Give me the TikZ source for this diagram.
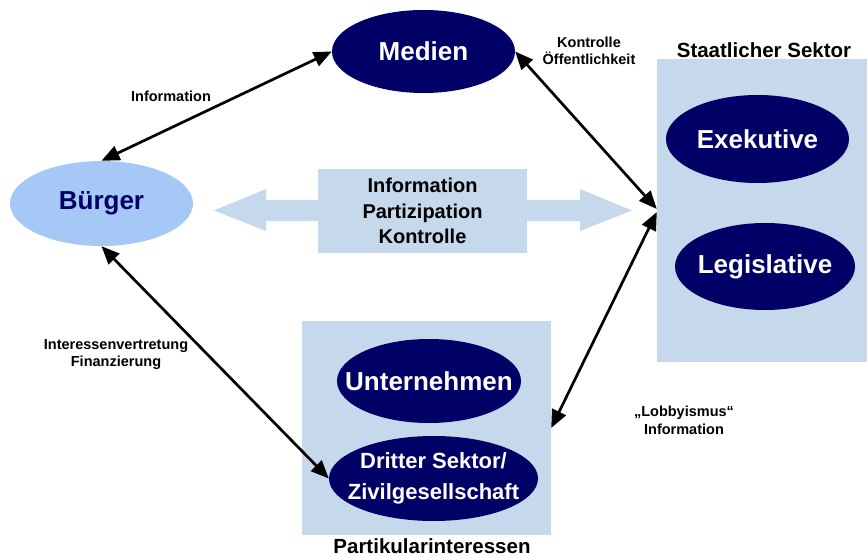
\documentclass[tikz,border=0pt]{standalone}
\usepackage{fontspec}
\setmainfont{Liberation Sans}
\usetikzlibrary{shapes.geometric,arrows.meta}
\definecolor{navy}{HTML}{000066}
\definecolor{paleblue}{HTML}{C5D8EC}
\definecolor{buergerblue}{HTML}{A6C8F7}
\begin{document}
\begin{tikzpicture}[x=1pt,y=-1pt,
  darkell/.style={ellipse, fill=navy, inner sep=0pt},
  ellfont/.style={text=white, inner sep=0pt, align=center, font=\bfseries\fontsize{26}{28}\selectfont},
  panel/.style={fill=paleblue, inner sep=0pt},
  conn/.style={black, line width=2.7pt, {Triangle[length=18pt,width=15pt]}-{Triangle[length=18pt,width=15pt]}},
  lbl/.style={font=\bfseries\fontsize{14.5}{17.5}\selectfont, align=center, inner sep=0pt},
  title/.style={font=\bfseries\fontsize{20.5}{24}\selectfont, inner sep=0pt, anchor=base},
  bigarrow/.style={fill=paleblue}
]
\useasboundingbox (0,0) rectangle (867,556);

% panels
\node[panel, minimum width=212pt, minimum height=303pt] (staat) at (763,210.5) {};
\node[panel, minimum width=249pt, minimum height=214pt] (part) at (426.5,428) {};
\node[panel, minimum width=209pt, minimum height=84pt, align=center,
      font=\bfseries\fontsize{20}{25.5}\selectfont] (mitte) at (422.5,211)
      {Information\\Partizipation\\Kontrolle};

% big light arrows
\fill[bigarrow] (mitte.west |- 0,200) -- (266,200) -- (266,189) -- (214,210.5)
   -- (266,231) -- (266,221) -- (mitte.west |- 0,221) -- cycle;
\fill[bigarrow] (mitte.east |- 0,200) -- (580,200) -- (580,189) -- (632,210.5)
   -- (580,231) -- (580,221) -- (mitte.east |- 0,221) -- cycle;

% titles
\node[title] (staattitle) at (764,58) {Staatlicher Sektor};
\node[title] (parttitle) at (432,553.5) {Partikularinteressen};

% ellipses
\node[darkell, minimum width=183pt, minimum height=83pt,
      label={[ellfont]center:Medien}] (medien) at (423.5,51.5) {};
\node[ellipse, fill=buergerblue, inner sep=0pt, minimum width=183pt, minimum height=85pt,
      label={[ellfont, text=navy]center:Bürger}] (buerger) at (101.5,203.5) {};
\node[darkell, minimum width=183pt, minimum height=88pt,
      label={[ellfont]center:Exekutive}] (exek) at (757.5,139) {};
\node[darkell, minimum width=180pt, minimum height=87pt,
      label={[ellfont]center:Legislative}] (legis) at (765,266.5) {};
\node[darkell, minimum width=184pt, minimum height=84pt,
      label={[ellfont]center:Unternehmen}] (untern) at (429,381) {};
\node[darkell, minimum width=209pt, minimum height=85pt,
      label={[ellfont, font=\bfseries\fontsize{22}{31}\selectfont]center:Dritter Sektor/\\Zivilgesellschaft}] (dritter) at (433.5,478.5) {};

% connector end points on the state panel
\coordinate (s1) at ([yshift=1.5pt]staat.west);
\coordinate (s2) at ([yshift=-1.5pt]staat.west);

% connectors
\draw[conn] (buerger.north) -- (medien.west);
\draw[conn] (medien.east) -- (s1);
\draw[conn] (part.east) -- (s2);
\draw[conn] (buerger.south) -- (dritter.west);

% labels
\node[lbl] (linfo) at (171,96) {Information};
\node[lbl] (lkontr) at (589,51) {Kontrolle\\Öffentlichkeit};
\node[lbl] (linter) at (116,354.5) {Interessenvertretung\\Finanzierung};
\node[lbl] (llobby) at (684,420.5) {„Lobbyismus“\\Information};
\end{tikzpicture}
\end{document}
